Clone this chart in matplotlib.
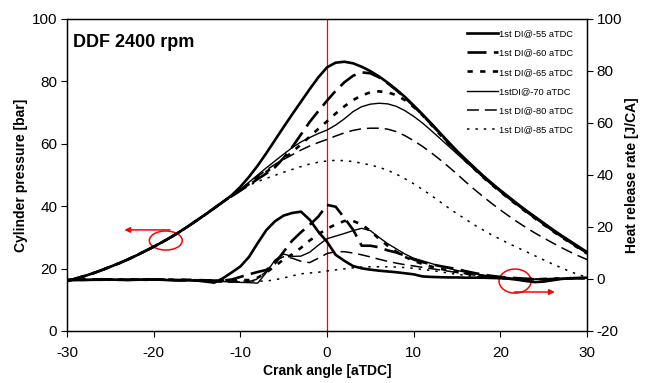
import matplotlib
matplotlib.use("Agg")
import matplotlib.pyplot as plt
from matplotlib.patches import Ellipse

plt.rcParams['font.family'] = ['Liberation Sans', 'DejaVu Sans']
plt.rcParams['axes.unicode_minus'] = False

crank_angle = list(range(-30, 31))

compression = [16.0, 16.8, 17.6, 18.5, 19.5, 20.6, 21.7, 22.9, 24.2, 25.6,
               27.0, 28.5, 30.1, 31.8, 33.6, 35.5, 37.4, 39.4]

p_55 = compression + [41.4, 43.5, 46.2, 49.4, 53.0, 57.0, 61.2, 65.4, 69.5, 73.5,
                      77.5, 81.3, 84.5, 86.0, 86.3, 85.8, 84.7, 83.3, 81.6, 79.6,
                      77.4, 75.0, 72.3, 69.5, 66.6, 63.6, 60.6, 57.7, 55.0, 52.4,
                      49.8, 47.4, 45.1, 42.9, 40.7, 38.6, 36.6, 34.6, 32.6, 30.7,
                      28.9, 27.1, 25.3]
p_60 = compression + [41.4, 43.2, 45.0, 46.8, 48.7, 50.5, 52.5, 55.5, 59.0, 63.0,
                      67.0, 70.5, 73.8, 77.0, 79.7, 81.8, 82.9, 82.6, 81.3, 79.4,
                      77.2, 74.8, 72.1, 69.3, 66.4, 63.4, 60.4, 57.5, 54.8, 52.2,
                      49.6, 47.2, 44.9, 42.7, 40.5, 38.4, 36.4, 34.4, 32.4, 30.5,
                      28.7, 26.9, 25.1]
p_65 = compression + [41.4, 43.3, 45.2, 47.1, 49.1, 51.0, 53.0, 55.1, 57.4, 59.8,
                      62.3, 64.8, 67.2, 69.7, 72.0, 74.0, 75.5, 76.5, 76.8, 76.5,
                      75.6, 74.0, 71.8, 69.2, 66.2, 63.1, 60.1, 57.2, 54.5, 51.9,
                      49.3, 46.9, 44.6, 42.4, 40.2, 38.1, 36.1, 34.1, 32.1, 30.2,
                      28.4, 26.6, 24.8]
p_70 = compression + [41.4, 43.3, 45.4, 47.7, 50.0, 52.3, 54.5, 56.7, 58.8, 60.6,
                      62.0, 63.3, 64.4, 66.0, 68.0, 70.3, 71.9, 72.7, 73.0, 72.8,
                      72.0, 70.6, 68.8, 66.7, 64.3, 61.8, 59.3, 56.8, 54.3, 51.8,
                      49.3, 46.9, 44.6, 42.4, 40.2, 38.1, 36.1, 34.1, 32.1, 30.2,
                      28.4, 26.6, 24.8]
p_80 = compression + [41.4, 43.3, 45.3, 47.5, 49.6, 51.6, 53.4, 55.0, 56.5, 58.0,
                      59.3, 60.4, 61.4, 62.5, 63.5, 64.3, 64.8, 65.0, 65.0, 64.7,
                      63.9, 62.6, 61.0, 59.2, 57.2, 55.0, 52.7, 50.3, 47.8, 45.4,
                      43.1, 40.9, 38.8, 36.8, 34.9, 33.1, 31.4, 29.8, 28.3, 26.8,
                      25.4, 24.1, 22.9]
p_85 = compression + [41.4, 43.4, 45.3, 46.7, 47.9, 48.9, 49.9, 50.9, 51.8, 52.7,
                      53.5, 54.1, 54.5, 54.7, 54.6, 54.3, 53.8, 53.2, 52.5, 51.5,
                      50.3, 48.8, 47.2, 45.4, 43.5, 41.5, 39.5, 37.6, 35.8, 34.0,
                      32.4, 30.8, 29.4, 28.0, 26.7, 25.4, 24.1, 22.8, 21.5, 20.3,
                      19.1, 18.1, 17.2]

hrr_55 = [-0.5, -0.4, -0.4, -0.3, -0.3, -0.2, -0.3, -0.4, -0.3, -0.2,
          -0.2, -0.3, -0.5, -0.6, -0.5, -0.6, -1.0, -1.4,
          0.3, 2.5, 4.8, 8.5, 13.8, 18.8, 22.2, 24.4, 25.4, 25.9,
          22.8, 18.2, 14.3, 9.3, 7.0, 5.0, 4.1, 3.6, 3.2, 2.9,
          2.6, 2.2, 1.8, 1.0, 0.8, 0.7, 0.6, 0.6, 0.5, 0.5,
          0.5, 0.4, 0.3, 0.1, -0.3, -0.8, -1.2, -1.0, -0.5, 0.0,
          0.3, 0.4, 0.5]
hrr_60 = [-0.3, -0.3, -0.2, -0.2, -0.1, -0.2, -0.2, -0.3, -0.2, -0.1,
          -0.2, -0.2, -0.3, -0.4, -0.3, -0.4, -0.5, -0.6,
          -0.6, -0.2, 0.8, 1.8, 2.7, 3.5, 6.0, 10.5, 14.8, 18.0,
          20.8, 24.0, 28.5, 27.8, 23.5, 19.0, 12.8, 12.8, 12.2, 11.0,
          10.2, 9.0, 7.5, 6.5, 5.7, 5.0, 4.4, 3.8, 3.0, 2.3,
          1.7, 1.2, 0.8, 0.5, 0.3, 0.1, 0.0, -0.1, 0.0, 0.1,
          0.2, 0.3, 0.3]
hrr_65 = [-0.4, -0.3, -0.3, -0.2, -0.2, -0.3, -0.3, -0.2, -0.2, -0.3,
          -0.3, -0.2, -0.2, -0.3, -0.4, -0.5, -0.5, -0.6,
          -0.6, -0.5, -0.4, -0.4, 0.5, 2.5, 5.0, 7.5, 9.5, 12.0,
          14.8, 17.2, 19.3, 21.0, 22.3, 22.3, 21.0, 18.5, 15.5, 12.8,
          10.5, 8.5, 7.0, 5.8, 4.8, 4.0, 3.3, 2.7, 2.1, 1.6,
          1.2, 0.8, 0.5, 0.3, 0.1, 0.0, -0.1, 0.0, 0.1, 0.2,
          0.2, 0.3, 0.3]
hrr_70 = [-0.3, -0.2, -0.2, -0.1, -0.2, -0.3, -0.2, -0.2, -0.1, -0.2,
          -0.3, -0.2, -0.3, -0.4, -0.5, -0.6, -0.8, -1.0,
          -1.0, -1.1, -1.3, -1.4, -1.6, 2.5, 7.3, 9.6, 8.7, 8.8,
          10.3, 13.0, 15.5, 16.5, 17.5, 18.6, 19.5, 18.6, 16.0, 13.6,
          11.6, 9.6, 8.0, 7.0, 6.0, 5.0, 4.1, 3.3, 2.6, 2.0,
          1.5, 1.1, 0.7, 0.4, 0.2, 0.0, -0.1, 0.0, 0.1, 0.2,
          0.3, 0.3, 0.4]
hrr_80 = [-0.4, -0.4, -0.3, -0.3, -0.2, -0.2, -0.3, -0.3, -0.2, -0.2,
          -0.2, -0.3, -0.4, -0.5, -0.6, -0.7, -0.9, -1.1,
          -1.2, -1.2, -1.1, -1.0, 0.0, 3.0, 7.0, 8.6, 8.0, 6.8,
          6.3, 8.0, 9.8, 10.5, 10.5, 10.0, 9.3, 8.5, 7.6, 6.8,
          6.1, 5.5, 5.0, 4.5, 4.0, 3.5, 3.0, 2.5, 2.0, 1.5,
          1.1, 0.8, 0.5, 0.3, 0.1, 0.0, -0.1, 0.0, 0.1, 0.2,
          0.2, 0.3, 0.3]
hrr_85 = [-0.3, -0.3, -0.2, -0.2, -0.2, -0.1, -0.2, -0.2, -0.3, -0.2,
          -0.2, -0.2, -0.3, -0.3, -0.4, -0.4, -0.5, -0.6,
          -0.6, -0.7, -0.8, -0.8, -0.8, -0.8, -0.3, 0.4, 1.2, 2.0,
          2.3, 2.6, 3.1, 3.5, 3.9, 4.3, 4.6, 4.7, 4.7, 4.7,
          4.6, 4.4, 4.1, 3.7, 3.3, 2.8, 2.3, 1.8, 1.4, 1.0,
          0.7, 0.4, 0.2, 0.0, -0.1, -0.1, 0.0, 0.0, 0.1, 0.1,
          0.2, 0.2, 0.3]

labels = ['1st DI@-55 aTDC', '1st DI@-60 aTDC', '1st DI@-65 aTDC',
          '1stDI@-70 aTDC', '1st DI@-80 aTDC', '1st DI@-85 aTDC']
x_ticks = [-30, -20, -10, 0, 10, 20, 30]
left_ticks = [0, 20, 40, 60, 80, 100]
right_ticks = [-20, 0, 20, 40, 60, 80, 100]

pressures = [p_55, p_60, p_65, p_70, p_80, p_85]
hrrs = [hrr_55, hrr_60, hrr_65, hrr_70, hrr_80, hrr_85]
styles = [
    dict(lw=1.9, ls='-'),
    dict(lw=1.9, ls=(0, (7.2, 2.8))),
    dict(lw=1.9, ls=(0, (2.0, 2.8))),
    dict(lw=1.0, ls='-'),
    dict(lw=1.1, ls=(0, (7.8, 3.9))),
    dict(lw=1.1, ls=(0, (1.6, 3.9))),
]

fig = plt.figure(figsize=(6.51, 3.83), dpi=100)
ax = fig.add_axes([67/651, 52/383, 520/651, 312/383])
ax2 = ax.twinx()

ax.axvline(0, color='red', lw=0.9, zorder=1.5)

handles = []
for p, st, lab in zip(pressures, styles, labels):
    h, = ax.plot(crank_angle, p, color='black', label=lab, zorder=2, **st)
    handles.append(h)
for q, st in zip(hrrs, styles):
    ax2.plot(crank_angle, q, color='black', **st)

ax.set_xlim(-30, 30)
ax.set_ylim(0, 100)
ax2.set_ylim(-20, 100)
ax.set_xticks(x_ticks)
ax.set_yticks(left_ticks)
ax2.set_yticks(right_ticks)
for a in (ax, ax2):
    a.tick_params(direction='out', length=4, width=0.8, labelsize=11, pad=3)
    for s in a.spines.values():
        s.set_linewidth(0.9)
ax.tick_params(axis='x', pad=7)

ax.set_xlabel('Crank angle [aTDC]', fontsize=10, fontweight='bold', labelpad=3)
ax.set_ylabel('Cylinder pressure [bar]', fontsize=10, fontweight='bold', labelpad=3)
ax2.set_ylabel('Heat release rate [J/CA]', fontsize=10, fontweight='bold', labelpad=2)

ax.text(0.012, 0.925, 'DDF 2400 rpm', transform=ax.transAxes, fontsize=13,
        fontweight='bold', va='center', ha='left')

# annotations (red circles and arrows)
ax.add_patch(Ellipse((-18.6, 29.0), 3.8, 6.1, fill=False, edgecolor='red', lw=1.1))
ax.annotate('', xy=(-23.7, 32.4), xytext=(-17.8, 32.4),
            arrowprops=dict(arrowstyle='-|>', color='red', lw=1.1, mutation_scale=8))
ax.add_patch(Ellipse((21.7, 16.0), 3.7, 7.7, fill=False, edgecolor='red', lw=1.1))
ax.annotate('', xy=(26.6, 12.5), xytext=(21.3, 12.5),
            arrowprops=dict(arrowstyle='-|>', color='red', lw=1.1, mutation_scale=8))

leg = ax2.legend(handles, labels, loc='upper right', bbox_to_anchor=(0.985, 0.985),
                 frameon=False, fontsize=6.7, handlelength=3.3, handletextpad=0.2,
                 labelspacing=1.1, borderaxespad=0.2)

fig.savefig('out.png', dpi=100)
